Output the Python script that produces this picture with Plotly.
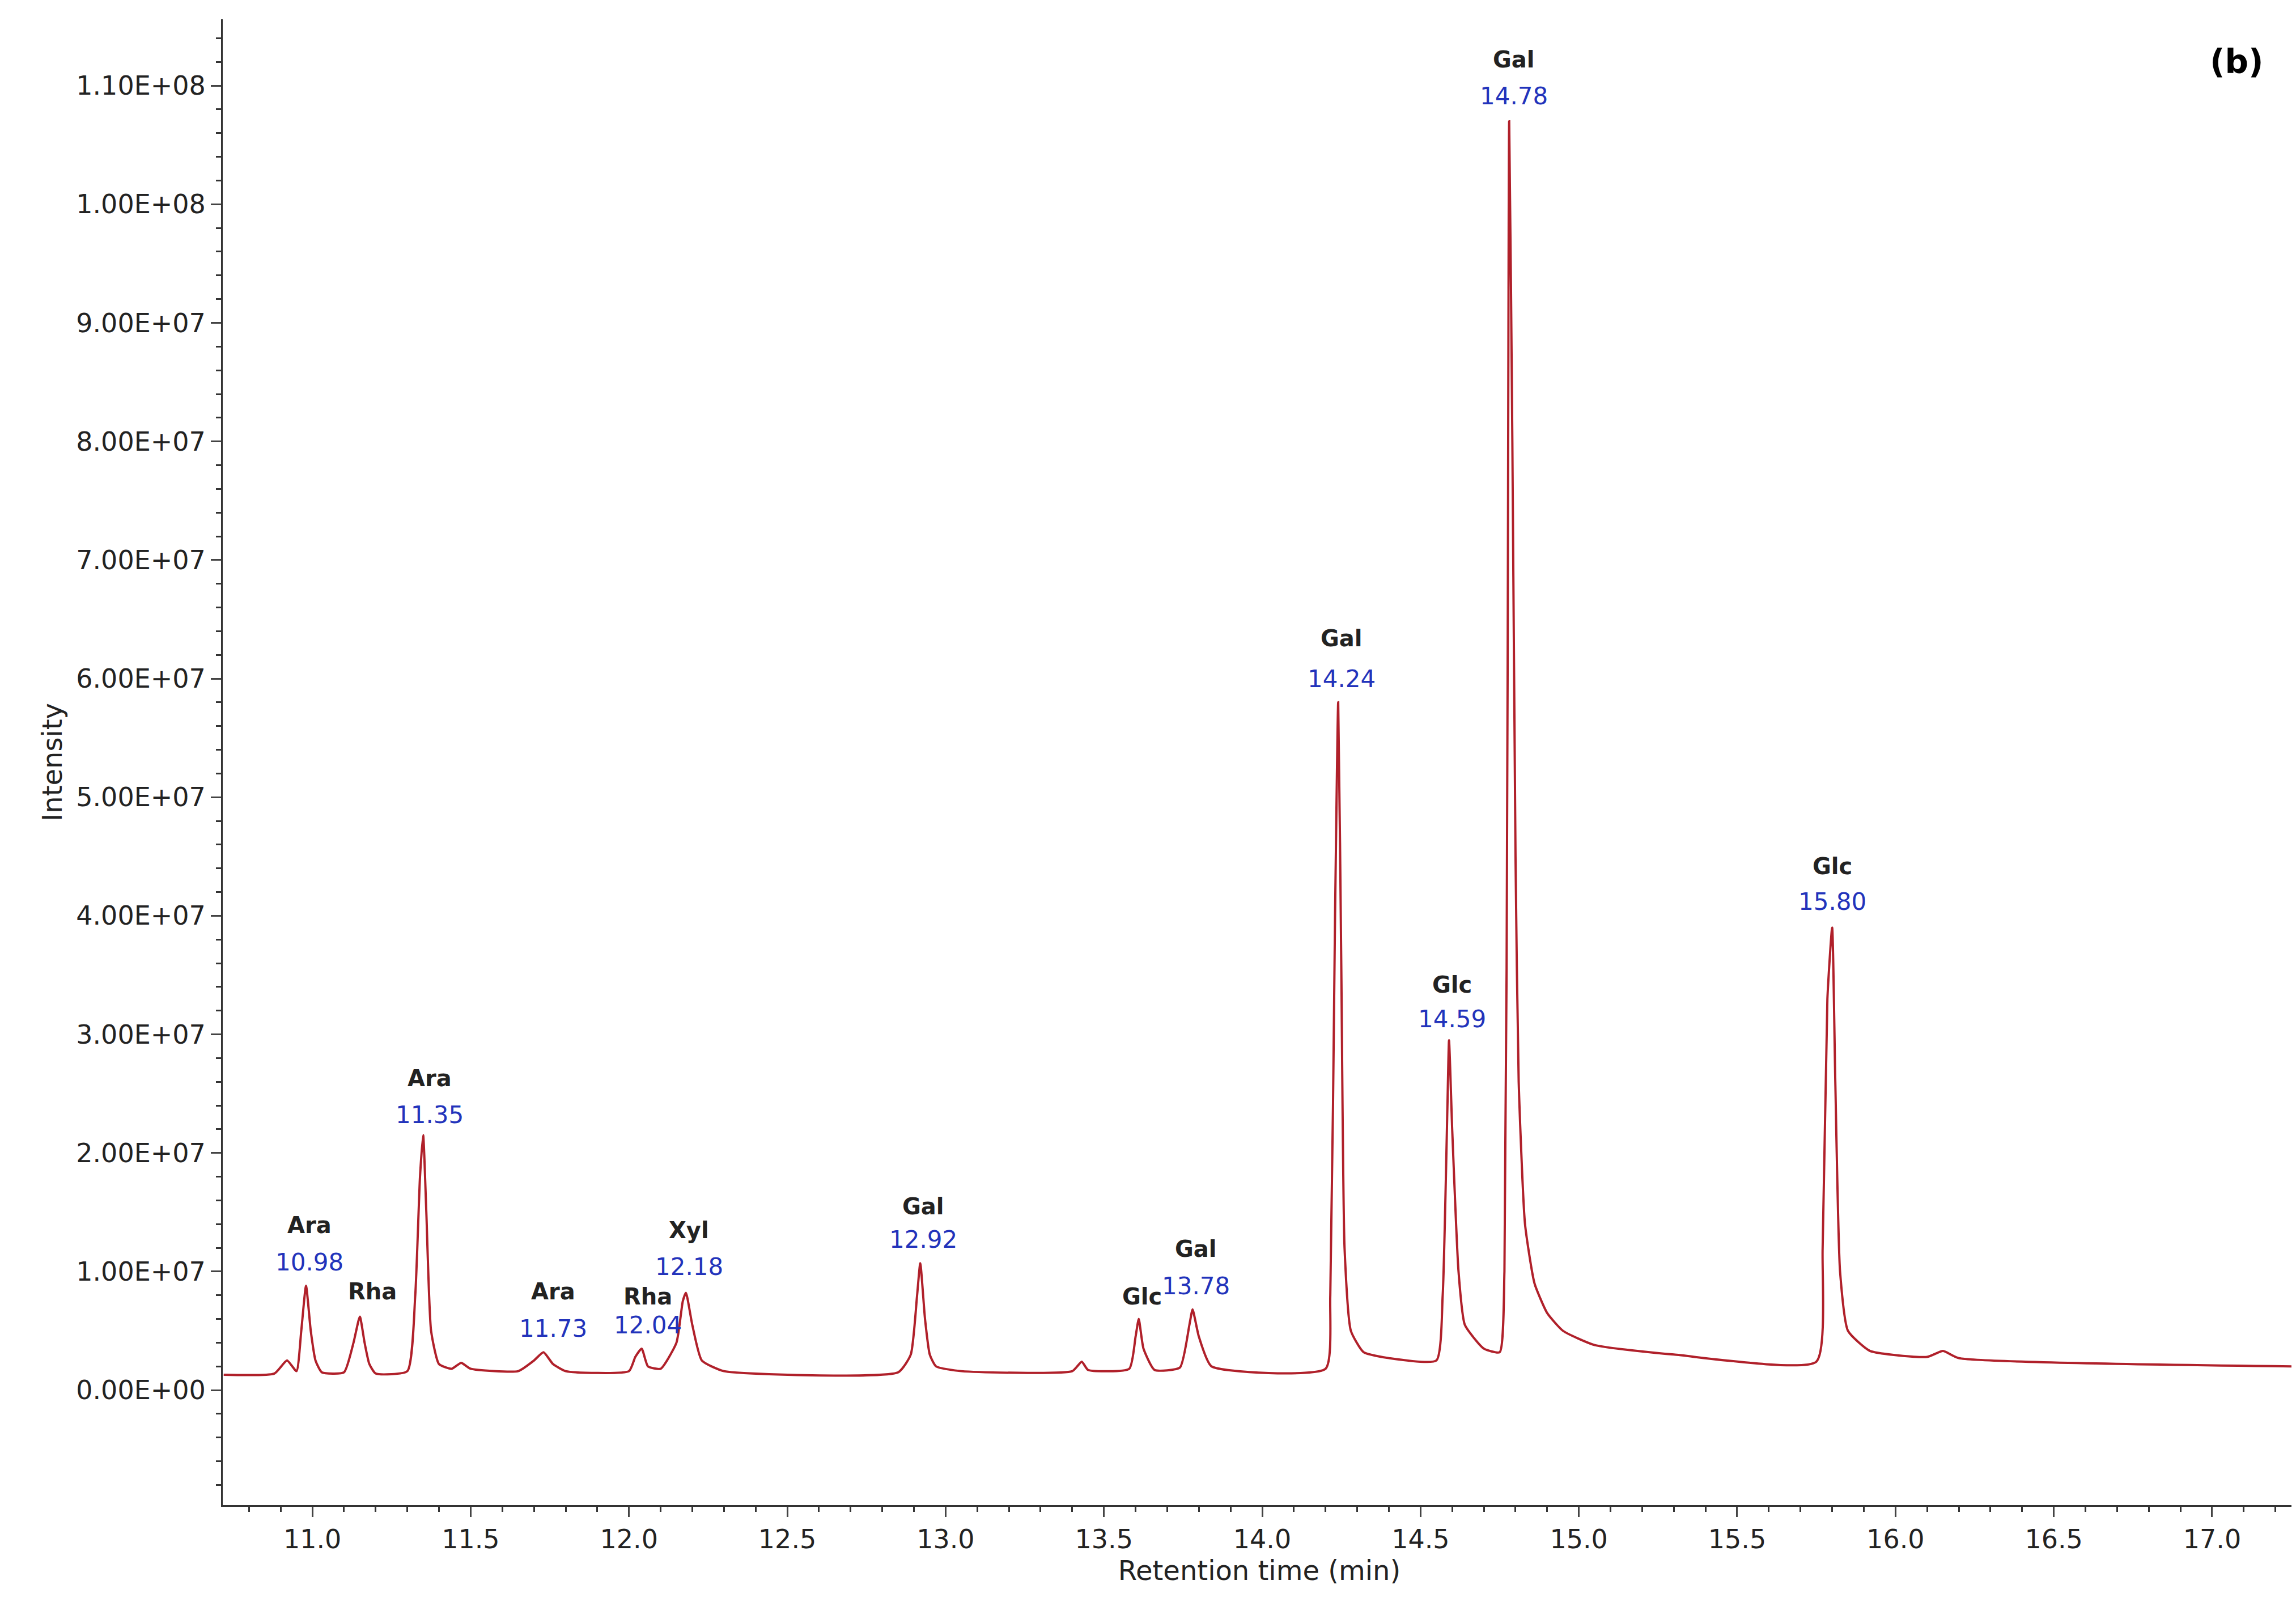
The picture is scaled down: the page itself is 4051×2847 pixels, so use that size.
import plotly.graph_objects as go

# Chromatogram trace (retention time in min, intensity)
rt = [10.72,10.88,10.92,10.95,10.965,10.98,10.995,11.01,11.03,11.10,11.13,11.15,11.165,11.18,11.20,11.30,11.325,11.34,11.35,11.36,11.375,11.40,11.44,11.47,11.50,
      11.65,11.70,11.73,11.76,11.80,12.00,12.02,12.04,12.06,12.10,12.15,12.17,12.18,12.20,12.23,12.30,12.85,12.89,12.91,12.92,12.935,12.95,12.97,13.05,
      13.40,13.43,13.45,13.58,13.60,13.61,13.625,13.66,13.74,13.77,13.78,13.80,13.84,14.20,14.215,14.23,14.24,14.25,14.26,14.28,14.32,14.40,14.55,14.57,14.585,14.59,
      14.60,14.62,14.64,14.70,14.75,14.765,14.775,14.78,14.79,14.80,14.81,14.83,14.86,14.90,14.95,15.05,15.30,15.75,15.77,15.785,15.80,15.81,15.825,15.85,15.92,16.10,16.15,16.20,17.265]
intensity = [1.3e6,1.4e6,2.5e6,1.6e6,5e6,8.8e6,5e6,2.5e6,1.5e6,1.5e6,4e6,6.2e6,4e6,2.2e6,1.4e6,1.6e6,8e6,1.8e7,2.15e7,1.5e7,5e6,2.2e6,1.8e6,2.3e6,1.8e6,
             1.6e6,2.5e6,3.2e6,2.2e6,1.6e6,1.6e6,2.8e6,3.5e6,2e6,1.8e6,4e6,7.5e6,8.2e6,5.5e6,2.5e6,1.6e6,1.5e6,3e6,8e6,1.07e7,6e6,3e6,2e6,1.6e6,
             1.6e6,2.4e6,1.7e6,1.8e6,4.5e6,6e6,3.5e6,1.7e6,1.9e6,5.5e6,6.8e6,4.5e6,2e6,1.8e6,8e6,4e7,5.8e7,3.5e7,1.2e7,5e6,3.2e6,2.7e6,2.5e6,8e6,2.4e7,2.95e7,
             2.2e7,1.0e7,5.5e6,3.5e6,3.2e6,1.0e7,6e7,1.07e8,8e7,4.5e7,2.6e7,1.4e7,9e6,6.5e6,5e6,3.8e6,3e6,2.4e6,1.2e7,3.3e7,3.9e7,2.6e7,1.0e7,5e6,3.3e6,2.8e6,3.3e6,2.7e6,2e6]

# Peak labels
sugar = ["Ara","Rha","Ara","Ara","Rha","Xyl","Gal","Glc","Gal","Gal","Glc","Gal","Glc"]
peak_time = ["10.98","","11.35","11.73","12.04","12.18","12.92","","13.78","14.24","14.59","14.78","15.80"]
label_x = [10.99,11.19,11.37,11.76,12.06,12.19,12.93,13.62,13.79,14.25,14.60,14.795,15.80]
name_y = [1.39e7,0.83e7,2.63e7,0.83e7,0.79e7,1.35e7,1.55e7,0.79e7,1.19e7,6.34e7,3.42e7,1.122e8,4.42e7]
time_y = [1.08e7,None,2.32e7,0.52e7,0.55e7,1.04e7,1.27e7,None,0.88e7,6.0e7,3.13e7,1.091e8,4.12e7]

ytick_vals = [i*1e7 for i in range(12)]
ytick_text = ["0.00E+00","1.00E+07","2.00E+07","3.00E+07","4.00E+07","5.00E+07","6.00E+07",
              "7.00E+07","8.00E+07","9.00E+07","1.00E+08","1.10E+08"]

fig = go.Figure(go.Scatter(x=rt, y=intensity, mode="lines", line_shape="spline",
                           line=dict(color="#b0202a", width=4, smoothing=0.5), hoverinfo="skip"))

ann = []
for s, t, x, ny, ty in zip(sugar, peak_time, label_x, name_y, time_y):
    ann.append(dict(x=x, y=ny, text="<b>"+s+"</b>", showarrow=False,
                    font=dict(family="DejaVu Sans", size=40, color="#222")))
    if t:
        ann.append(dict(x=x, y=ty, text=t, showarrow=False,
                        font=dict(family="DejaVu Sans", size=42, color="#2233bb")))
ann.append(dict(x=0.985, y=0.985, xref="paper", yref="paper", text="<b>(b)</b>", showarrow=False,
                font=dict(family="DejaVu Sans", size=58, color="black")))

fig.update_layout(
    width=4051, height=2847, plot_bgcolor="white", paper_bgcolor="white",
    margin=dict(l=385, r=8, t=26, b=200), showlegend=False, annotations=ann,
    font=dict(family="DejaVu Sans", size=46, color="#222"),
)
fig.update_xaxes(range=[10.717, 17.265], tickvals=[11+0.5*i for i in range(13)], tickformat=".1f",
                 showline=True, linecolor="#333", linewidth=3, ticks="outside", ticklen=18, tickwidth=3,
                 minor=dict(ticks="outside", ticklen=9, dtick=0.1, tickcolor="#333"),
                 showgrid=False, zeroline=False,
                 title=dict(text="Retention time (min)", standoff=0, font=dict(size=48)))
fig.update_yaxes(range=[-0.97e7, 1.156e8], tickvals=ytick_vals, ticktext=ytick_text,
                 showline=True, linecolor="#333", linewidth=3, ticks="outside", ticklen=18, tickwidth=3,
                 minor=dict(ticks="outside", ticklen=9, dtick=2e6, tickcolor="#333"),
                 showgrid=False, zeroline=False,
                 title=dict(text="Intensity", standoff=10, font=dict(size=48)))
fig.write_html("out.html")
